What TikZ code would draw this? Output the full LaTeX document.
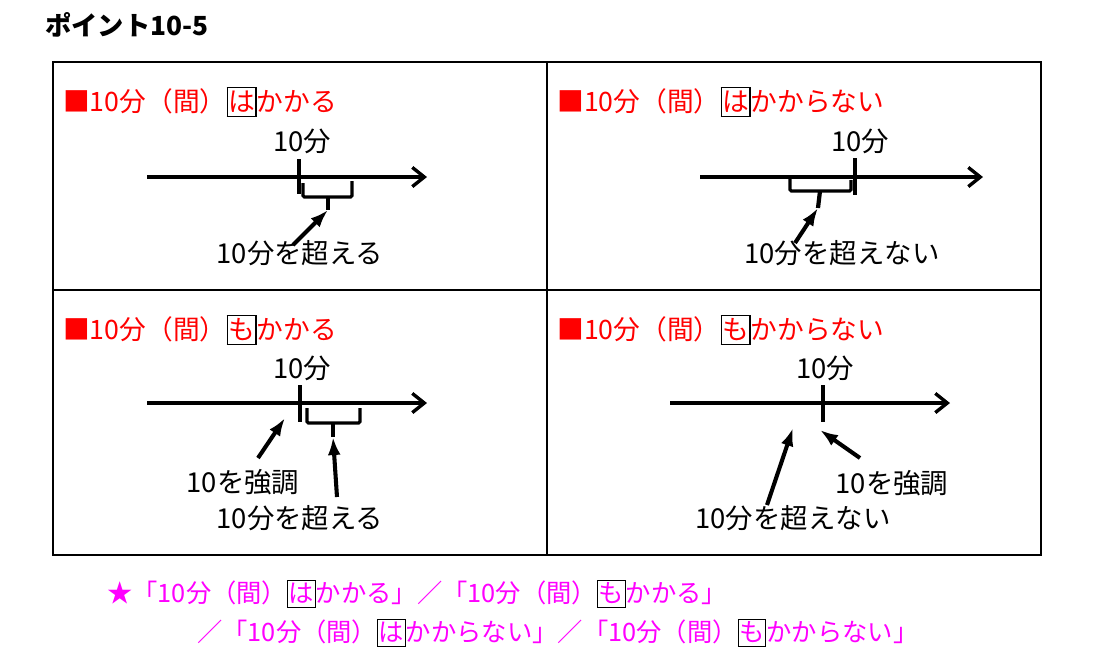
\documentclass[tikz,border=0pt]{standalone}
\usepackage{fontspec}
\setmainfont{Noto Sans CJK JP}
\usetikzlibrary{arrows.meta}
\definecolor{midashiaka}{RGB}{255,0,0}
\definecolor{matomemomo}{RGB}{255,0,255}
% boxed particle (は / も)
\newcommand{\wakuji}[1]{{\setlength{\fboxsep}{0.4pt}\setlength{\fboxrule}{0.8pt}\fcolorbox{black}{white}{\rule[-0.16em]{0pt}{1.0em}#1}}}
\tikzset{
  midashi/.style={anchor=west,inner sep=0pt,text=midashiaka,font=\fontsize{19}{21}\selectfont},
  setsumei/.style={inner sep=0pt,font=\fontsize{19.5}{21}\selectfont},
  jiku/.style={line width=2.4pt,-{Straight Barb[length=0.3cm,width=0.48cm]}},
  memori/.style={line width=2.2pt},
  kakko/.style={line width=2.2pt,rounded corners=1pt},
  yajirushi/.style={line width=2.9pt,-{Latex[length=0.45cm,width=0.32cm]}}
}
\begin{document}
\begin{tikzpicture}[x=0.025cm,y=-0.025cm]
    \useasboundingbox[fill=white] (0,0) rectangle (1100,660);
    \node[anchor=west,inner sep=0pt,font=\fontsize{18.7}{20}\selectfont\bfseries] (title) at (45,25) {ポイント10-5};
    % table
    \draw[line width=1pt] (53,62) rectangle (1041,555);
    \draw[line width=1pt] (547,62) -- (547,555);
    \draw[line width=1pt] (53,290) -- (1041,290);
    \node[midashi] (h1) at (63,102) {■10分（間）\wakuji{は}かかる};
    \node[midashi] (h2) at (557,102) {■10分（間）\wakuji{は}かからない};
    \node[midashi] (h3) at (63,330) {■10分（間）\wakuji{も}かかる};
    \node[midashi] (h4) at (557,330) {■10分（間）\wakuji{も}かからない};

    % panel 1
    \coordinate (a1s) at (147,177); \coordinate (a1e) at (427,177);
    \draw[jiku] (a1s) -- (a1e);
    \draw[memori] (299,159) -- (299,194);
    \node[setsumei] (t1) at (302,141) {10分};
    \draw[kakko] (303,183) -- (303,197) -- (352,197) -- (352,181);
    \coordinate (s1) at (328,210);
    \draw[line width=3pt] (328,197) -- (s1);
    \node[setsumei] (l1) at (300,253) {10分を超える};
    \coordinate (o1) at (293,245);
    \draw[yajirushi] (o1) -- (s1);

    % panel 2
    \coordinate (a2s) at (700,177); \coordinate (a2e) at (983,177);
    \draw[jiku] (a2s) -- (a2e);
    \draw[memori] (855,158) -- (855,195);
    \node[setsumei] (t2) at (860,141) {10分};
    \draw[kakko] (790,178) -- (790,191) -- (851,191) -- (851,180);
    \coordinate (s2) at (818,208);
    \draw[line width=3pt] (820,191) -- (s2);
    \node[setsumei] (l2) at (842,253) {10分を超えない};
    \coordinate (o2) at (795,243);
    \draw[yajirushi] (o2) -- (s2);

    % panel 3
    \coordinate (a3s) at (147,403); \coordinate (a3e) at (427,403);
    \draw[jiku] (a3s) -- (a3e);
    \draw[memori] (300,385) -- (300,422);
    \node[setsumei] (t3) at (302,368) {10分};
    \draw[kakko] (307,408) -- (307,423) -- (360,423) -- (360,408);
    \coordinate (s3) at (333,437);
    \draw[line width=3pt] (333,423) -- (s3);
    \node[setsumei] (k3) at (243,482) {10を強調};
    \coordinate (ko3) at (258,458); \coordinate (kt3) at (285,418);
    \draw[yajirushi] (ko3) -- (kt3);
    \node[setsumei] (l3) at (300,518) {10分を超える};
    \coordinate (o3) at (337,497);
    \draw[yajirushi] (o3) -- (s3);

    % panel 4
    \coordinate (a4s) at (670,403); \coordinate (a4e) at (950,403);
    \draw[jiku] (a4s) -- (a4e);
    \draw[memori] (823,385) -- (823,422);
    \node[setsumei] (t4) at (825,368) {10分};
    \node[setsumei] (l4) at (793,518) {10分を超えない};
    \coordinate (o4) at (767,505); \coordinate (s4) at (793,428);
    \draw[yajirushi] (o4) -- (s4);
    \node[setsumei] (k4) at (892,483) {10を強調};
    \coordinate (ko4) at (860,458); \coordinate (kt4) at (820,430);
    \draw[yajirushi] (ko4) -- (kt4);

    % summary
    \node[anchor=west,inner sep=0pt,text=matomemomo,font=\fontsize{18}{20}\selectfont] (m1) at (107,594)
      {★「10分（間）\wakuji{は}かかる」／「10分（間）\wakuji{も}かかる」};
    \node[anchor=west,inner sep=0pt,text=matomemomo,font=\fontsize{18}{20}\selectfont] (m2) at (197,633)
      {／「10分（間）\wakuji{は}かからない」／「10分（間）\wakuji{も}かからない」};
\end{tikzpicture}
\end{document}
